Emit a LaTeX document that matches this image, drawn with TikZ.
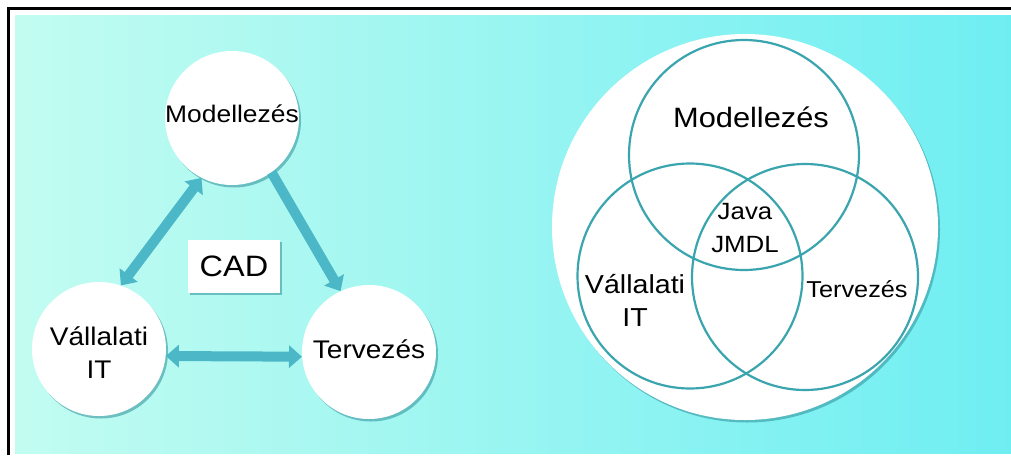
\documentclass[tikz,border=0pt]{standalone}
\usepackage{fontspec}
\setmainfont{Liberation Sans}
\newfontfamily\widesans[FakeStretch=1.1]{Liberation Sans}
\usetikzlibrary{arrows.meta,shadows}
\definecolor{bgleft}{HTML}{C2FCF1}
\definecolor{bgright}{HTML}{6FEEF2}
\definecolor{arrowteal}{HTML}{4BB7C7}
\definecolor{venn}{HTML}{3AA5AE}
\definecolor{shadowteal}{HTML}{2E8F99}
\newcommand{\fs}[1]{\widesans\fontsize{#1}{33}\selectfont}
\begin{document}
\begin{tikzpicture}[x=1pt,y=-1pt,
  softshadow/.style={drop shadow={shadow xshift=2pt, shadow yshift=-2.5pt, fill=shadowteal, opacity=0.55}},
  bubble/.style={circle, fill=white, minimum size=134pt, inner sep=0pt, softshadow},
  labelbox/.style={rectangle, fill=white, minimum width=92pt, minimum height=53pt, inner sep=0pt, softshadow},
  ring/.style={circle, draw=venn, line width=2.2pt, inner sep=0pt},
  txt/.style={inner sep=0pt, align=center},
  oneway/.style={draw=arrowteal, line width=10pt, -{Triangle[width=22pt,length=13pt]}},
  twoway/.style={draw=arrowteal, line width=10pt, {Triangle[width=22pt,length=13pt]}-{Triangle[width=22pt,length=13pt]}}
]
\useasboundingbox (0,0) rectangle (1011,455);
\fill[white] (0,0) rectangle (1011,455);
% background panel and frame
\shade[left color=bgleft, right color=bgright] (15,15) rectangle (1011,453);
\draw[line width=3pt] (8,455) -- (8,8) -- (1011,8);

% left: triangle of disciplines
\node[bubble, label={[txt, font=\fs{24}, yshift=4pt]center:Modellezés}] (m) at (232,118) {};
\node[bubble, label={[txt, font=\fs{25.5}, yshift=-4pt]center:Vállalati\\IT}] (v) at (99,349) {};
\node[bubble, label={[txt, font=\fs{25.5}, yshift=3pt]center:Tervezés}] (t) at (369,352) {};
\node[labelbox, font=\fs{29.5}] (cad) at (234,266) {CAD};

\draw[twoway] (m.243) -- (v.71);
\draw[oneway] (m.306) -- (t.115);
\draw[twoway] (v.-6) -- (t.184);

% right: Venn diagram
\node[circle, fill=white, minimum size=386pt, inner sep=0pt, softshadow] (big) at (745,227) {};
\node[ring, minimum size=230pt] (rm) at (744,155) {};
\node[ring, minimum size=225pt] (rv) at (690,276) {};
\node[ring, minimum size=226pt] (rt) at (805,277) {};

\node[txt, font=\fs{28}] (lm) at (751,117) {Modellezés};
\node[txt, font=\fs{23.5}] (lj) at (745,228) {Java\\JMDL};
\node[txt, font=\fs{26}] (lv) at (635,300) {Vállalati\\IT};
\node[txt, font=\fs{23}] (lt) at (857,289) {Tervezés};
\end{tikzpicture}
\end{document}
